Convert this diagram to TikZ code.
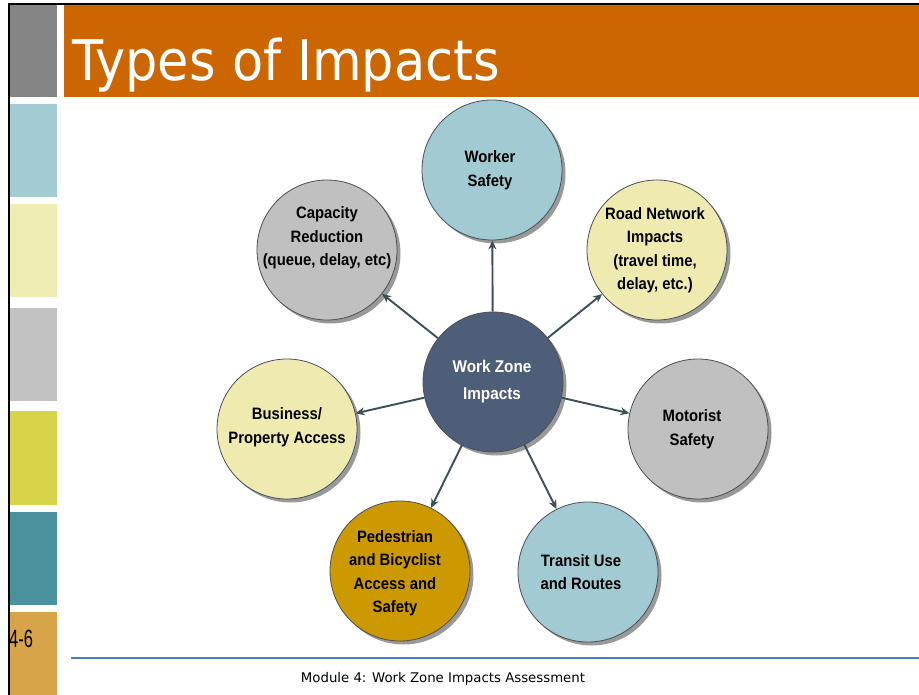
\documentclass[tikz,border=0pt]{standalone}
\usepackage{fontspec}
\setmainfont{Liberation Sans}
\newfontfamily\labfont[FakeStretch=0.9]{Liberation Sans}
\newfontfamily\titlefont[FakeStretch=0.91]{DejaVu Sans}
\newfontfamily\footfont{DejaVu Sans}
\newfontfamily\condfont[FakeStretch=0.66]{Liberation Sans}
\usetikzlibrary{arrows.meta,shadows}
\definecolor{sgray}{HTML}{858585}
\definecolor{sblue}{HTML}{A3CBD4}
\definecolor{spale}{HTML}{EFEDB3}
\definecolor{slgray}{HTML}{C2C2C2}
\definecolor{sgreen}{HTML}{D8D44A}
\definecolor{steal}{HTML}{4B929E}
\definecolor{sgold}{HTML}{D7A449}
\definecolor{orangeban}{HTML}{CC6600}
\definecolor{cblue}{HTML}{A2CAD3}
\definecolor{cgray}{HTML}{C0C0C0}
\definecolor{cpale}{HTML}{EFEBB0}
\definecolor{cnavy}{HTML}{4E5D78}
\definecolor{cgold}{HTML}{CC9900}
\definecolor{arrc}{HTML}{3B4F56}
\definecolor{bordc}{HTML}{4A4F55}
\definecolor{footc}{HTML}{4A7EBB}
\tikzset{
  bubble/.style={circle, minimum size=140pt, inner sep=0pt, draw=bordc, line width=0.8pt,
    drop shadow={shadow xshift=3.5pt, shadow yshift=-3.5pt, fill=black, opacity=0.4}},
  txt/.style={align=center, inner sep=0pt, font=\labfont\bfseries\fontsize{16.5}{23.5}\selectfont},
  arr/.style={draw=arrc, line width=1.9pt, -{Stealth[length=9pt,width=8pt]}}
}
\begin{document}
\begin{tikzpicture}[x=1pt,y=-1pt]
\useasboundingbox (0,0) rectangle (919,695);
\fill[white] (0,0) rectangle (919,695);
% sidebar
\fill[sgray]  (10,5)   rectangle (57,97);
\fill[sblue]  (10,104) rectangle (57,197);
\fill[spale]  (10,204) rectangle (57,297);
\fill[slgray] (10,308) rectangle (57,401);
\fill[sgreen] (10,411) rectangle (57,505);
\fill[steal]  (10,512) rectangle (57,605);
\fill[sgold]  (10,612) rectangle (57,695);
\fill[orangeban] (64,5) rectangle (919,97);
\draw[line width=2pt, line cap=rect] (9,695) -- (9,4) -- (919,4);
\node[anchor=base west, inner sep=0pt, text=white, font=\titlefont\fontsize{56}{60}\selectfont] (title) at (72,81) {Types of Impacts};
\node[anchor=base west, inner sep=0pt, font=\condfont\fontsize{25}{25}\selectfont] (pg) at (9,647) {4-6};
% footer
\coordinate (fl) at (71,658);
\coordinate (fr) at (919,658);
\draw[footc, line width=1.5pt] (fl) -- (fr);
\node[anchor=base, inner sep=0pt, font=\footfont\fontsize{13.3}{16}\selectfont] (foot) at (443,682) {Module 4: Work Zone Impacts Assessment};
% circles
\node[bubble, fill=cblue] (ws) at (492,170) {};
\node[bubble, fill=cgray] (cr) at (327,250) {};
\node[bubble, fill=cpale] (rn) at (657,250) {};
\node[bubble, fill=cnavy] (cz) at (493,382) {};
\node[bubble, fill=cpale] (bp) at (287,429) {};
\node[bubble, fill=cgray] (ms) at (698,429) {};
\node[bubble, fill=cgold] (pb) at (400,571) {};
\node[bubble, fill=cblue] (tu) at (588,572) {};
% texts
\node[txt] (wst) at (490,170) {Worker\\Safety};
\node[txt] (crt) at (327,238) {Capacity\\Reduction\\(queue, delay, etc)};
\node[txt] (rnt) at (655,250) {Road Network\\Impacts\\(travel time,\\delay, etc.)};
\node[txt, text=white, font=\labfont\bfseries\fontsize{17}{27}\selectfont] (czt) at (492,382) {Work Zone\\Impacts};
\node[txt] (bpt) at (287,427) {Business/\\Property Access};
\node[txt] (mst) at (692,429) {Motorist\\Safety};
\node[txt] (pbt) at (395,573) {Pedestrian\\and Bicyclist\\Access and\\Safety};
\node[txt] (tut) at (581,572) {Transit Use\\and Routes};
% arrows
\draw[arr] (cz) -- (ws);
\draw[arr] (cz) -- (cr);
\draw[arr] (cz) -- (rn);
\draw[arr] (cz) -- (bp);
\draw[arr] (cz) -- (ms);
\draw[arr] (cz) -- (pb);
\draw[arr] (cz) -- (tu);
\end{tikzpicture}
\end{document}
